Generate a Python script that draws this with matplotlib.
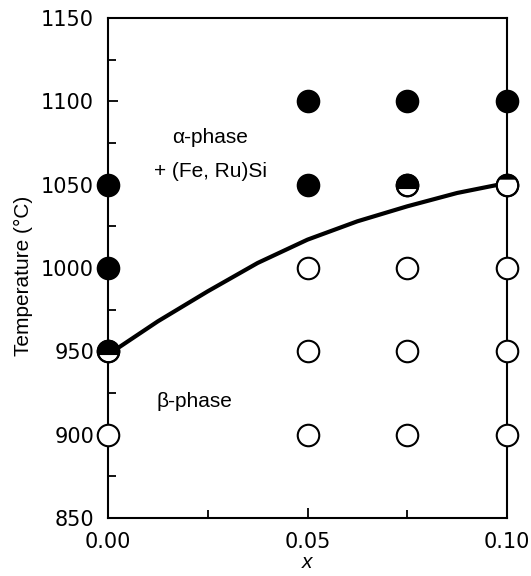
import numpy as np
import matplotlib
matplotlib.use("Agg")
import matplotlib.pyplot as plt
from matplotlib.path import Path
from matplotlib.ticker import MultipleLocator

plt.rcParams['font.family'] = ['Liberation Sans', 'DejaVu Sans']

# samples in the alpha + (Fe,Ru)Si region (filled)
filled_x = [0.0, 0.0, 0.05, 0.05, 0.075, 0.10]
filled_t = [1000, 1050, 1050, 1100, 1100, 1100]

# samples in the beta region (open)
open_x = [0.0, 0.05, 0.075, 0.10, 0.05, 0.075, 0.10, 0.05, 0.075, 0.10]
open_t = [900, 900, 900, 900, 950, 950, 950, 1000, 1000, 1000]

# samples on the boundary (partly filled)
part_x = [0.0, 0.075, 0.10]
part_t = [950, 1050, 1050]
part_level = [-0.33, -0.33, 0.54]   # chord height, black above it

# phase boundary
line_x = [0.0, 0.0125, 0.025, 0.0375, 0.05, 0.0625, 0.075, 0.0875, 0.10]
line_t = [948, 968, 986, 1003, 1017, 1028, 1037, 1045, 1051]

xticks = [0.00, 0.05, 0.10]
xticklabels = ['0.00', '0.05', '0.10']
yticks = [850, 900, 950, 1000, 1050, 1100, 1150]


def cap_marker(h):
    # filled part of a unit circle above y = h
    a0 = np.arcsin(h)
    th = np.linspace(a0, np.pi - a0, 60)
    verts = np.column_stack([np.cos(th), np.sin(th)])
    verts = np.vstack([verts, verts[:1]])
    codes = [Path.MOVETO] + [Path.LINETO] * (len(verts) - 2) + [Path.CLOSEPOLY]
    return Path(verts, codes)


fig = plt.figure(figsize=(5.31, 5.76), dpi=100)
ax = fig.add_axes([0.2034, 0.1007, 0.7514, 0.8681])

ax.plot(line_x, line_t, color='black', lw=3, zorder=2, solid_capstyle='round')

ms = 15.5
ax.plot(open_x, open_t, 'o', ms=ms, mfc='white', mec='black', mew=1.5,
        clip_on=False, zorder=3)
ax.plot(filled_x, filled_t, 'o', ms=ms, mfc='black', mec='black', mew=1.5,
        clip_on=False, zorder=3)
for px, pt, lv in zip(part_x, part_t, part_level):
    ax.plot([px], [pt], 'o', ms=ms, mfc='white', mec='black', mew=1.5,
            clip_on=False, zorder=3)
    ax.plot([px], [pt], marker=cap_marker(lv), ms=ms, mfc='black',
            mec='black', mew=0, ls='none', clip_on=False, zorder=4)
    ax.plot([px], [pt], 'o', ms=ms, mfc='none', mec='black', mew=1.5,
            clip_on=False, zorder=5)

ax.set_xlim(0.0, 0.10)
ax.set_ylim(850, 1150)
ax.set_xticks(xticks)
ax.set_xticklabels(xticklabels)
ax.set_yticks(yticks)
ax.xaxis.set_minor_locator(MultipleLocator(0.025))
ax.yaxis.set_minor_locator(MultipleLocator(25))
ax.tick_params(which='both', direction='in', labelsize=15, pad=10,
               width=1.3, top=False, right=False)
ax.tick_params(which='major', length=7)
ax.tick_params(which='minor', length=6)
for lab in ax.get_xticklabels() + ax.get_yticklabels():
    lab.set_family('DejaVu Sans')
for s in ax.spines.values():
    s.set_linewidth(1.5)

ax.set_ylabel('Temperature (°C)', fontsize=15)
ax.yaxis.set_label_coords(-0.188, 0.484)
ax.set_xlabel('x', fontsize=15, style='italic', labelpad=1)

ax.text(0.0256, 1078, 'α-phase', fontsize=15, ha='center', va='center')
ax.text(0.0258, 1058, '+ (Fe, Ru)Si', fontsize=15, ha='center', va='center')
ax.text(0.0216, 920, 'β-phase', fontsize=15, ha='center', va='center')

fig.savefig('out.png', dpi=100)
